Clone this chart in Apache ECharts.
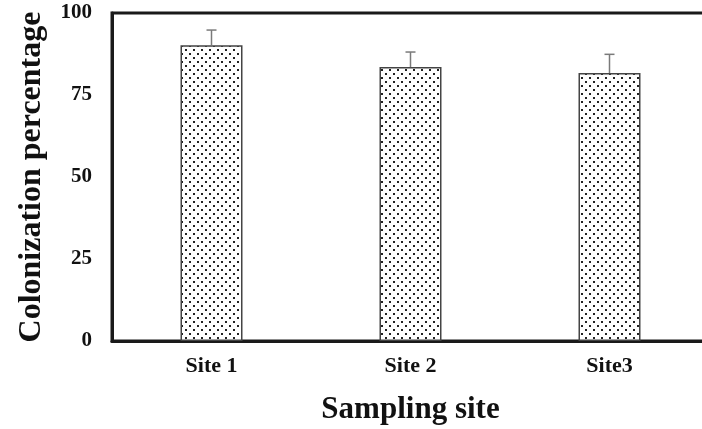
<!DOCTYPE html>
<html>
<head>
<meta charset="utf-8">
<script src="https://cdn.jsdelivr.net/npm/echarts@6/dist/echarts.min.js"></script>
<style>
  html, body { margin: 0; padding: 0; background: #fff; }
  #chart { width: 702px; height: 429px; }
</style>
</head>
<body>
<div id="chart"></div>
<script>
const sites = ['Site 1', 'Site 2', 'Site3'];
const colonization = [90.2, 83.5, 81.7];
const errorUpper = [94.8, 88.1, 87.4];
const yTicks = [0, 25, 50, 75, 100];

// stipple fill for the bars
function dotPattern() {
  const c = document.createElement('canvas');
  c.width = 8; c.height = 8;
  const g = c.getContext('2d');
  g.fillStyle = '#fff';
  g.fillRect(0, 0, 8, 8);
  g.fillStyle = '#222';
  g.fillRect(1, 1, 2, 2);
  g.fillRect(5, 5, 2, 2);
  return c;
}

const serif = '"Liberation Serif", "Times New Roman", serif';
const chart = echarts.init(document.getElementById('chart'), null, { renderer: 'canvas' });

chart.setOption({
  animation: false,
  grid: {
    left: 112, top: 13, width: 597, height: 328,
    outerBoundsMode: 'none',
    containLabel: false,
    show: true, borderColor: '#1a1a1a', borderWidth: 3, backgroundColor: 'transparent'
  },
  xAxis: {
    type: 'category',
    data: sites,
    axisLine: { show: true, lineStyle: { color: '#1a1a1a', width: 3 } },
    axisTick: { show: false },
    axisLabel: { fontFamily: serif, fontWeight: 'bold', fontSize: 22, color: '#111', margin: 14 },
    name: 'Sampling site',
    nameLocation: 'middle',
    nameGap: 53,
    nameTextStyle: { fontFamily: serif, fontWeight: 'bold', fontSize: 31, color: '#111', verticalAlign: 'top' }
  },
  yAxis: {
    type: 'value',
    min: 0, max: 100, interval: 25,
    axisLine: { show: true, lineStyle: { color: '#1a1a1a', width: 3 } },
    axisTick: { show: false },
    splitLine: { show: false },
    axisLabel: {
      fontFamily: serif, fontWeight: 'bold', fontSize: 21, color: '#111', margin: 20,
      formatter: v => (yTicks.indexOf(v) >= 0 ? String(v) : '')
    },
    name: 'Colonization percentage',
    nameLocation: 'middle',
    nameGap: 64,
    nameTextStyle: { fontFamily: serif, fontWeight: 'bold', fontSize: 32, color: '#111' }
  },
  series: [
    {
      type: 'bar',
      data: colonization,
      barWidth: 62,
      itemStyle: {
        color: { image: dotPattern(), repeat: 'repeat' },
        borderColor: '#444',
        borderWidth: 1.5
      },
      z: 2
    },
    {
      type: 'custom',
      z: 3,
      data: sites.map((s, i) => [i, colonization[i], errorUpper[i]]),
      renderItem: function (params, api) {
        const base = api.coord([api.value(0), api.value(1)]);
        const top = api.coord([api.value(0), api.value(2)]);
        const half = 5;
        const style = { stroke: '#7a7a7a', lineWidth: 1.5 };
        return {
          type: 'group',
          children: [
            { type: 'line', shape: { x1: base[0], y1: base[1], x2: top[0], y2: top[1] }, style },
            { type: 'line', shape: { x1: top[0] - half, y1: top[1], x2: top[0] + half, y2: top[1] }, style }
          ]
        };
      }
    }
  ]
});
</script>
</body>
</html>
